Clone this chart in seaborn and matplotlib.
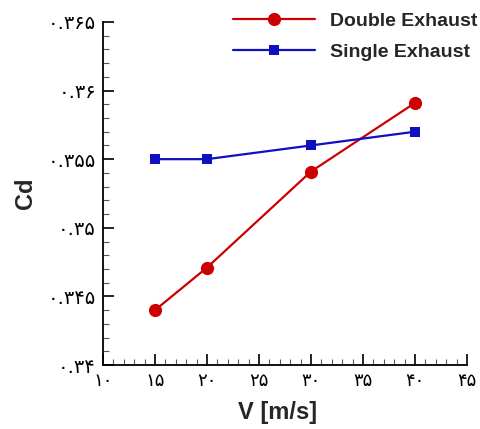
import matplotlib
matplotlib.use("Agg")
import matplotlib.pyplot as plt
from matplotlib.ticker import MultipleLocator
import seaborn as sns
import pandas as pd

# data
velocity = [15, 20, 30, 40]
cd_double = [0.3440, 0.3471, 0.3541, 0.3591]
cd_single = [0.3550, 0.3550, 0.3560, 0.3570]

x_ticks = [10, 15, 20, 25, 30, 35, 40, 45]
y_ticks = [0.340, 0.345, 0.350, 0.355, 0.360, 0.365]
x_tick_labels = ["۱۰", "۱۵", "۲۰", "۲۵", "۳۰", "۳۵", "۴۰", "۴۵"]
y_tick_labels = ["۰.۳۴", "۰.۳۴۵", "۰.۳۵", "۰.۳۵۵", "۰.۳۶", "۰.۳۶۵"]

df_double = pd.DataFrame({"V": velocity, "Cd": cd_double})
df_single = pd.DataFrame({"V": velocity, "Cd": cd_single})

sns.set_style("ticks", {"xtick.direction": "in", "ytick.direction": "in"})
plt.rcParams['font.family'] = ['Liberation Sans', 'DejaVu Sans']
plt.rcParams['xtick.direction'] = 'in'
plt.rcParams['ytick.direction'] = 'in'

fig = plt.figure(figsize=(4.81, 4.29), dpi=100)
ax = fig.add_axes([0.214, 0.149, 0.757, 0.800])

sns.lineplot(data=df_double, x="V", y="Cd", ax=ax, color="#cc0000",
             marker="o", markersize=9.5, markeredgewidth=0, linewidth=1.6,
             label="Double Exhaust")
sns.lineplot(data=df_single, x="V", y="Cd", ax=ax, color="#1010c0",
             marker="s", markersize=6.5, markeredgewidth=0, linewidth=1.6,
             label="Single Exhaust")

ax.set_xlim(10, 45)
ax.set_ylim(0.340, 0.365)
ax.set_xticks(x_ticks)
ax.set_yticks(y_ticks)
ax.set_xticklabels(x_tick_labels, family=['DejaVu Sans'], fontsize=13)
ax.set_yticklabels(y_tick_labels, family=['DejaVu Sans'], fontsize=14)
ax.xaxis.set_minor_locator(MultipleLocator(1))
ax.yaxis.set_minor_locator(MultipleLocator(0.001))
ax.tick_params(which="major", direction="in", length=8, width=1.2, colors="black", pad=5)
ax.tick_params(which="minor", direction="in", length=4, width=0.8, colors="#555555")

sns.despine(ax=ax)
for s in ["left", "bottom"]:
    ax.spines[s].set_linewidth(1.3)
    ax.spines[s].set_color("black")

ax.set_xlabel("V [m/s]", fontsize=17, fontweight="bold", labelpad=8)
ax.xaxis.set_label_coords(0.48, -0.105)
ax.set_ylabel("Cd", fontsize=17, fontweight="bold", labelpad=8)

leg = ax.legend(loc="upper right", bbox_to_anchor=(1.077, 1.08), frameon=False,
                prop={"weight": "bold", "size": 14}, handlelength=4.2,
                labelspacing=0.7, handletextpad=0.8)

fig.savefig("out.png", dpi=100)
